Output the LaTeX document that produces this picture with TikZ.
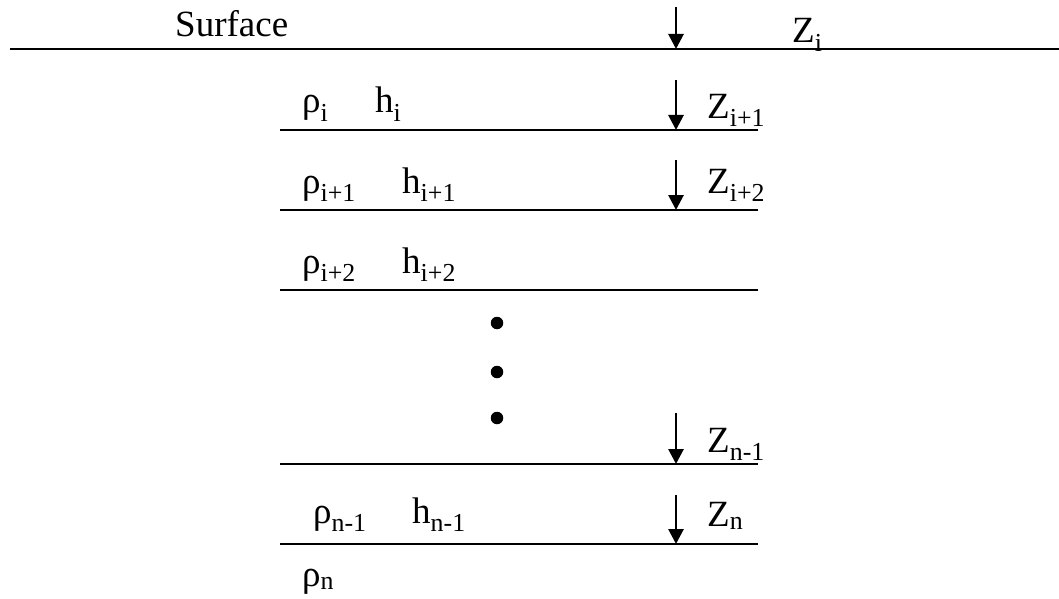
\documentclass[tikz,border=0pt]{standalone}
\usepackage{fontspec}
\setmainfont{Liberation Serif}
\usetikzlibrary{positioning,arrows.meta}

\tikzset{
  layer/.style={line width=2.8pt},
  depth/.style={line width=2.8pt,-{Triangle[length=15pt,width=15pt]}},
  lbl/.style={anchor=base west,inner sep=0pt,font=\fontsize{37}{44}\selectfont},
  dotmark/.style={circle,fill,inner sep=0pt,minimum size=12.5pt},
}

\begin{document}
\begin{tikzpicture}[x=1pt,y=-1pt]
    \useasboundingbox (0,0) rectangle (1059,599);

    % surface
    \coordinate (w0) at (10,49);
    \coordinate (e0) at (1059,49);
    \draw[layer] (w0) -- (e0);
    \node[lbl] (surf) at (175,37) {Surface};

    % layer boundaries
    \foreach \k/\y in {1/130,2/210,3/290,4/464,5/544}{
        \coordinate (w\k) at (280,\y);
        \coordinate (e\k) at (758,\y);
        \draw[layer] (w\k) -- (e\k);
    }

    % depth arrows down to each boundary
    \foreach \k/\y/\t in {0/49/7,1/130/80,2/210/160,4/464/413,5/544/495}{
        \coordinate (a\k) at (676,\t);
        \coordinate (b\k) at (676,\y);
        \draw[depth] (a\k) -- (b\k);
    }

    % depths
    \node[lbl] (z0) at (792,43) {Z\textsubscript{i}};
    \node[lbl] (z1) at (707,118) {Z\textsubscript{i+1}};
    \node[lbl] (z2) at (707,193) {Z\textsubscript{i+2}};
    \node[lbl] (z4) at (707,452) {Z\textsubscript{n-1}};
    \node[lbl] (z5) at (707,526) {Z\textsubscript{n}};

    % densities and thicknesses
    \node[lbl] (r1) at (302,113) {ρ\textsubscript{i}};
    \node[lbl] (h1) at (375,113) {h\textsubscript{i}};
    \node[lbl] (r2) at (302,193) {ρ\textsubscript{i+1}};
    \node[lbl] (h2) at (402,193) {h\textsubscript{i+1}};
    \node[lbl] (r3) at (302,273) {ρ\textsubscript{i+2}};
    \node[lbl] (h3) at (402,273) {h\textsubscript{i+2}};
    \node[lbl] (r4) at (313,523) {ρ\textsubscript{n-1}};
    \node[lbl] (h4) at (412,523) {h\textsubscript{n-1}};
    \node[lbl] (r5) at (302,586) {ρ\textsubscript{n}};

    % more layers
    \node[dotmark] (d1) at (497,323) {};
    \node[dotmark] (d2) at (497,372) {};
    \node[dotmark] (d3) at (497,418) {};
\end{tikzpicture}
\end{document}
